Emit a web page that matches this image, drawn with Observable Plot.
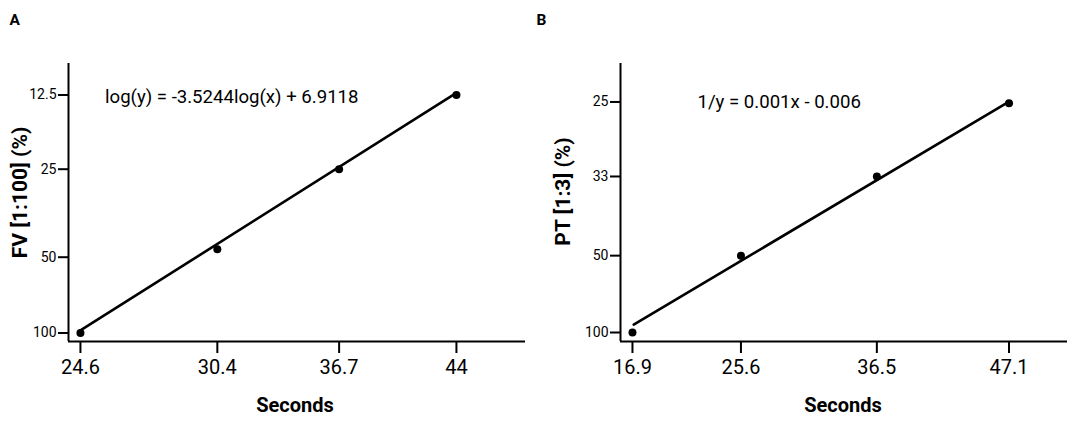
<!DOCTYPE html>
<html>
<head>
<meta charset="utf-8">
<script src="https://cdn.jsdelivr.net/npm/d3@7"></script>
<script src="https://cdn.jsdelivr.net/npm/@observablehq/plot@0.6"></script>
<style>
  html, body { margin: 0; padding: 0; background: #fff; }
  #wrap { display: flex; width: 1084px; height: 422px; }
  #wrap svg { display: block; }
</style>
</head>
<body>
<div id="wrap"></div>
<script>
// ---- Panel A data (FV [1:100]) ----
const secondsA = [24.6, 30.4, 36.7, 44];
const fvA = [100, 47, 25, 12.5];
const fitSecondsA = [24.6, 44];
const fitFvA = [97.7, 12.25];
const xTicksA = [24.6, 30.4, 36.7, 44];
const yTicksA = [100, 50, 25, 12.5];
const eqA = "log(y) = -3.5244log(x) + 6.9118";
const yLabelA = "FV [1:100] (%)";

// ---- Panel B data (PT [1:3]) ----
const secondsB = [16.9, 25.6, 36.5, 47.1];
const ptB = [100, 50, 33, 25.1];
const fitSecondsB = [17.0, 46.9];
const fitPtB = [90.6, 25.1];
const xTicksB = [16.9, 25.6, 36.5, 47.1];
const yTicksB = [100, 50, 33, 25];
const eqB = "1/y = 0.001x - 0.006";
const yLabelB = "PT [1:3] (%)";

function panel(cfg) {
  const font = "Roboto, 'Liberation Sans', sans-serif";
  return Plot.plot({
    width: cfg.width,
    height: 422,
    marginLeft: cfg.marginLeft,
    marginRight: cfg.marginRight,
    marginTop: 63,
    marginBottom: 81,
    style: { fontFamily: font, color: "#000", background: "#fff", overflow: "visible" },
    x: cfg.x,
    y: cfg.y,
    marks: [
      Plot.ruleX([cfg.x.domain[0]], { stroke: "#000", strokeWidth: 2 }),
      Plot.ruleY([cfg.y.domain[0]], { stroke: "#000", strokeWidth: 2 }),
      Plot.axisX(cfg.xTicks, {
        tickSize: 12, tickPadding: 6, fontSize: 20, strokeWidth: 2,
        stroke: "#000", fill: "#000", tickFormat: d => String(d), label: null
      }),
      Plot.axisY(cfg.yTicks, {
        tickSize: 10, tickPadding: 2, fontSize: 14, strokeWidth: 2,
        stroke: "#000", fill: "#000", tickFormat: d => String(d), label: null
      }),
      Plot.line(cfg.fitX.map((v, i) => [v, cfg.fitY[i]]), {
        x: d => d[0], y: d => d[1], stroke: "#000", strokeWidth: 2.6
      }),
      Plot.dot(cfg.xs.map((v, i) => [v, cfg.ys[i]]), {
        x: d => d[0], y: d => d[1], r: 4, fill: "#000", stroke: "none"
      }),
      Plot.text([cfg.eq], {
        frameAnchor: "top-left", dx: cfg.eqDx, dy: cfg.eqDy,
        textAnchor: "start", lineAnchor: "middle", fontSize: 18.6, fill: "#000"
      }),
      Plot.text([cfg.yLabel], {
        frameAnchor: "left", dx: cfg.yLabDx, dy: cfg.yLabDy, rotate: -90,
        textAnchor: "middle", lineAnchor: "middle",
        fontSize: 21, fontWeight: "bold", fill: "#000"
      }),
      Plot.text(["Seconds"], {
        frameAnchor: "bottom", dx: cfg.xLabDx, dy: 64,
        textAnchor: "middle", lineAnchor: "middle",
        fontSize: 20, fontWeight: "bold", fill: "#000"
      }),
      Plot.text([cfg.letter], {
        frameAnchor: "top-left", dx: cfg.letterDx, dy: -43.5,
        textAnchor: "start", lineAnchor: "middle",
        fontSize: 15.5, fontWeight: "bold", fill: "#000"
      })
    ]
  });
}

const wrap = document.getElementById("wrap");

wrap.appendChild(panel({
  width: 530, marginLeft: 68, marginRight: 5,
  x: { type: "log", domain: [24.15, 48.96] },
  // piecewise log axis, as spaced in the original figure
  y: { type: "log", domain: [108.1, 100, 50, 25, 12.5, 9.3], range: [341, 332.5, 256.7, 168.7, 94.5, 63] },
  xTicks: xTicksA, yTicks: yTicksA,
  xs: secondsA, ys: fvA, fitX: fitSecondsA, fitY: fitFvA,
  eq: eqA, eqDx: 36.5, eqDy: 33.5,
  yLabel: yLabelA, yLabDx: -48, yLabDy: -10,
  xLabDx: -2, letter: "A", letterDx: -59
}));

wrap.appendChild(panel({
  width: 554, marginLeft: 90, marginRight: 17,
  x: { type: "linear", domain: [15.94, 51.79] },
  y: { type: "pow", exponent: -1, domain: [113.26, 22.22] },
  xTicks: xTicksB, yTicks: yTicksB,
  xs: secondsB, ys: ptB, fitX: fitSecondsB, fitY: fitPtB,
  eq: eqB, eqDx: 77, eqDy: 38.5,
  yLabel: yLabelB, yLabDx: -57, yLabDy: -11,
  xLabDx: -1, letter: "B", letterDx: -84
}));
</script>
</body>
</html>
